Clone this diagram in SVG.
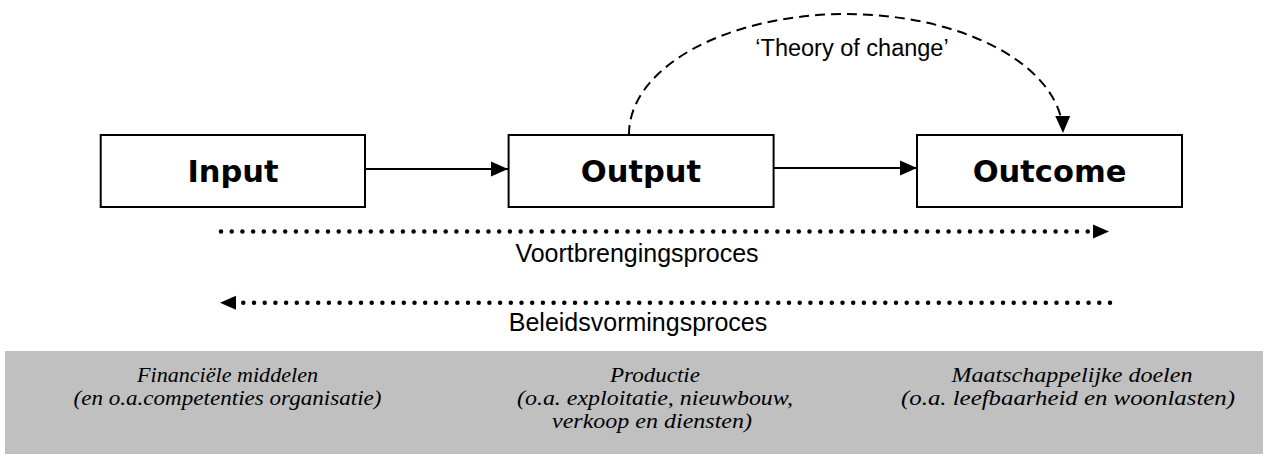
<svg xmlns="http://www.w3.org/2000/svg" width="1275" height="454" viewBox="0 0 1275 454">
<style>
.box{fill:#fff;stroke:#000;stroke-width:2}
.lbl{font-family:"DejaVu Sans",Verdana,sans-serif;font-weight:bold;font-size:30.5px;text-anchor:middle;fill:#000}
.sans{font-family:"Liberation Sans",Arial,sans-serif;fill:#000;text-anchor:middle}
.it{font-family:"Liberation Serif","Times New Roman",serif;font-style:italic;font-size:21.5px;fill:#000;text-anchor:middle}
.solid{fill:none;stroke:#000;stroke-width:2}
.dash{fill:none;stroke:#000;stroke-width:2;stroke-dasharray:10 6}
.dots{fill:none;stroke:#000;stroke-width:4.5;stroke-linecap:round;stroke-dasharray:0 10.7}
</style>
<defs>
<marker id="ah" markerUnits="userSpaceOnUse" markerWidth="18" markerHeight="16" refX="17" refY="8" orient="auto">
<path d="M0,0.5 L17,8 L0,15.5 Z" fill="#000"/>
</marker>
</defs>
<rect id="band" x="5" y="351" width="1258" height="103" fill="#C0C0C0"/>
<g id="connectors">
<line class="solid" x1="365" y1="169" x2="508" y2="169" marker-end="url(#ah)"/>
<line class="solid" x1="773.6" y1="168" x2="917" y2="168" marker-end="url(#ah)"/>
<path class="dash" d="M629,135 A217,120 0 0 1 1063,133" marker-end="url(#ah)"/>
<line class="dots" x1="221" y1="231.5" x2="1088" y2="231.5"/>
<path d="M1093,224.5 L1109,231.5 L1093,238.5 Z" fill="#000"/>
<line class="dots" x1="1110" y1="302.7" x2="242" y2="302.7"/>
<path d="M236,295.7 L220,302.7 L236,309.7 Z" fill="#000"/>
</g>
<g id="input"><rect class="box" x="100.7" y="135" width="264.3" height="72"/><text class="lbl" x="233" y="182">Input</text></g>
<g id="output"><rect class="box" x="508.6" y="135" width="265" height="72"/><text class="lbl" x="641" y="182">Output</text></g>
<g id="outcome"><rect class="box" x="917" y="135" width="265" height="72"/><text class="lbl" x="1049.5" y="182">Outcome</text></g>
<text class="sans" x="852" y="56" font-size="23.5">‘Theory of change’</text>
<text class="sans" x="637" y="262" font-size="25">Voortbrengingsproces</text>
<text class="sans" x="638" y="331" font-size="25">Beleidsvormingsproces</text>
<g id="col1">
<text class="it" x="227.5" y="382" textLength="181" lengthAdjust="spacingAndGlyphs">Financiële middelen</text>
<text class="it" x="227.5" y="405" textLength="308" lengthAdjust="spacingAndGlyphs">(en o.a.competenties organisatie)</text>
</g>
<g id="col2">
<text class="it" x="655" y="382" textLength="90" lengthAdjust="spacingAndGlyphs">Productie</text>
<text class="it" x="655" y="405" textLength="276" lengthAdjust="spacingAndGlyphs">(o.a. exploitatie, nieuwbouw,</text>
<text class="it" x="652" y="428" textLength="200" lengthAdjust="spacingAndGlyphs">verkoop en diensten)</text>
</g>
<g id="col3">
<text class="it" x="1072" y="382" textLength="241" lengthAdjust="spacingAndGlyphs">Maatschappelijke doelen</text>
<text class="it" x="1068" y="405" textLength="334" lengthAdjust="spacingAndGlyphs">(o.a. leefbaarheid en woonlasten)</text>
</g>
</svg>
